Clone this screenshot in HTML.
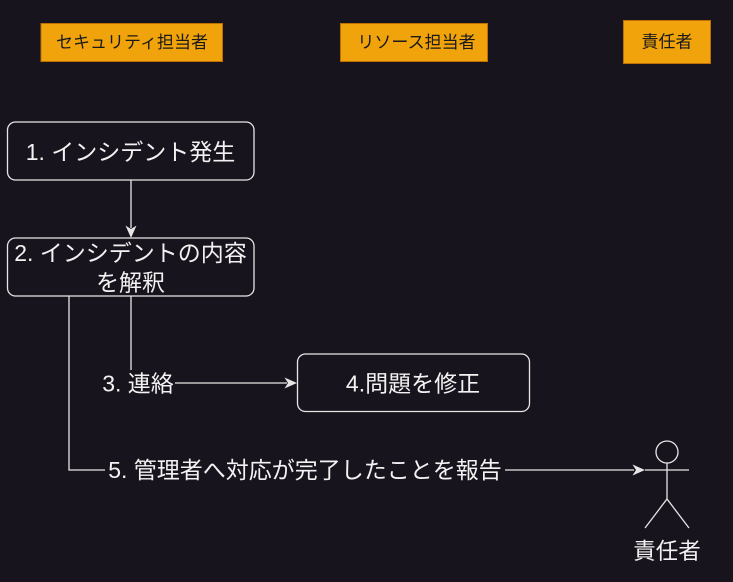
<!DOCTYPE html>
<html><head><meta charset="utf-8"><style>
html,body{margin:0;padding:0;background:#18141d;}
svg{display:block;}
text{font-family:"Liberation Sans","Noto Sans CJK JP",sans-serif;}
</style></head><body>
<svg width="733" height="582" viewBox="0 0 733 582" xmlns="http://www.w3.org/2000/svg">
<rect x="0" y="0" width="733" height="582" fill="#18141d"/>
<!-- headers -->
<rect x="41" y="23.5" width="181.5" height="38" fill="#f0a30a" stroke="#bd7000" stroke-width="1"/>
<text x="132" y="42.5" font-size="17" fill="#1a1a1a" text-anchor="middle" dominant-baseline="central">セキュリティ担当者</text>
<rect x="340.5" y="23.5" width="147" height="38" fill="#f0a30a" stroke="#bd7000" stroke-width="1"/>
<text x="416.5" y="42.5" font-size="17" fill="#1a1a1a" text-anchor="middle" dominant-baseline="central">リソース担当者</text>
<rect x="623.5" y="20.5" width="87" height="43" fill="#f0a30a" stroke="#bd7000" stroke-width="1"/>
<text x="667" y="42" font-size="17" fill="#1a1a1a" text-anchor="middle" dominant-baseline="central">責任者</text>

<g fill="none" stroke="#e6e6e6" stroke-width="1.3">
<!-- box1 -->
<rect x="7.5" y="122" width="246.5" height="58" rx="8" ry="8"/>
<!-- box2 -->
<rect x="7.5" y="238" width="246.5" height="58" rx="8" ry="8"/>
<!-- box4 -->
<rect x="297.5" y="354" width="232" height="57.5" rx="8" ry="8"/>
<!-- connectors -->
<path d="M131 180 V228"/>
<path d="M131 296 V383 H287"/>
<path d="M69 296 V470 H634"/>
<!-- actor -->
<circle cx="667" cy="452" r="11"/>
<path d="M667 463 V499 M645 470 H689 M645 528 L667 499 L689 528"/>
</g>
<g fill="#e6e6e6">
<polygon points="131,238 125.5,225.5 131,229 136.5,225.5"/>
<polygon points="297,383 284.5,377.5 288,383 284.5,388.5"/>
<polygon points="645,470 632.5,464.5 636,470 632.5,475.5"/>
</g>

<g fill="#f2f2f2" font-size="23" text-anchor="middle" dominant-baseline="central">
<text x="130.5" y="152">1. インシデント発生</text>
<text x="130.5" y="253">2. インシデントの内容</text>
<text x="130.5" y="282.5">を解釈</text>
<text x="413" y="383.5">4.問題を修正</text>
</g>
<rect x="101" y="370" width="74" height="26" fill="#18141d"/>
<text x="138" y="383.5" font-size="23" fill="#f2f2f2" text-anchor="middle" dominant-baseline="central">3. 連絡</text>
<rect x="105" y="457" width="400" height="26" fill="#18141d"/>
<text x="305" y="470" font-size="23" fill="#f2f2f2" text-anchor="middle" dominant-baseline="central">5. 管理者へ対応が完了したことを報告</text>
<text x="667" y="551.5" font-size="22.5" fill="#f2f2f2" text-anchor="middle" dominant-baseline="central">責任者</text>
</svg>
</body></html>
